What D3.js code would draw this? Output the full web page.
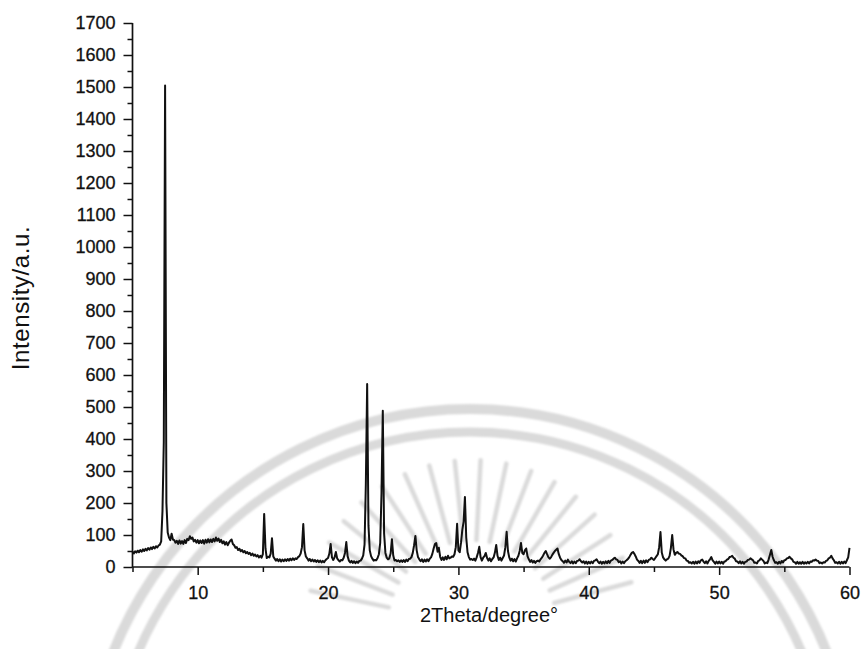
<!DOCTYPE html>
<html>
<head>
<meta charset="utf-8">
<script src="https://cdn.jsdelivr.net/npm/d3@7"></script>
<style>
  html, body { margin: 0; padding: 0; background: #fff; }
  svg { display: block; }
  text { font-family: "Liberation Sans", Arial, sans-serif; fill: #111; }
</style>
</head>
<body>
<svg id="chart" width="864" height="649"></svg>
<script>
// Powder XRD scan, 0.1° steps in 2θ; each block starts at the given angle.
const scanStep = 0.1;
const scan05 = { start: 5, values: [
  48, 42, 49, 45, 51, 46, 53, 48, 55, 50,
  57, 52, 59, 54, 61, 56, 63, 58, 65, 61,
  67, 70, 80, 175, 390, 1505, 200, 108, 92, 84,
  104, 86, 84, 76, 82, 72, 83, 73, 81, 72,
  84, 75, 88, 84, 96, 88, 92, 80, 85, 76 ] };
const scan10 = { start: 10, values: [
  84, 74, 83, 75, 84, 73, 85, 76, 87, 77,
  86, 78, 88, 80, 92, 82, 89, 78, 85, 74,
  80, 70, 78, 68, 76, 82, 86, 72, 68, 60,
  62, 53, 57, 49, 53, 46, 50, 43, 47, 41,
  44, 37, 42, 35, 39, 33, 37, 30, 35, 29,
  40, 166, 58, 28, 32, 30, 42, 90, 33, 26,
  20, 25, 18, 24, 17, 23, 18, 24, 19, 25,
  20, 26, 21, 27, 22, 27, 25, 31, 34, 42,
  62, 134, 52, 33, 27, 20, 25, 18, 23, 17,
  22, 16, 21, 15, 20, 14, 19, 15, 21, 25 ] };
const scan20 = { start: 20, values: [
  28, 42, 72, 30, 22, 30, 47, 27, 21, 17,
  22, 21, 29, 44, 78, 34, 20, 14, 19, 13,
  18, 12, 17, 13, 19, 20, 26, 36, 70, 260,
  572, 130, 52, 34, 26, 20, 22, 21, 28, 40,
  75, 230, 488, 105, 44, 29, 24, 27, 42, 87,
  36, 20, 22, 18, 21, 16, 21, 16, 22, 16,
  23, 18, 25, 26, 31, 44, 68, 97, 52, 31,
  24, 18, 24, 16, 23, 17, 24, 18, 26, 30,
  41, 58, 72, 75, 48, 60, 32, 22, 30, 22,
  32, 24, 35, 27, 29, 33, 32, 40, 62, 135 ] };
const scan30 = { start: 30, values: [
  52, 46, 76, 116, 142, 219, 92, 46, 31, 23,
  25, 22, 26, 20, 30, 44, 63, 31, 20, 29,
  34, 44, 28, 20, 27, 18, 25, 30, 45, 69,
  35, 22, 29, 20, 28, 36, 62, 110, 50, 30,
  20, 26, 18, 25, 17, 27, 35, 50, 75, 44,
  40, 52, 58, 34, 24, 16, 22, 14, 19, 13,
  18, 20, 17, 24, 29, 36, 44, 50, 40, 31,
  26, 30, 38, 44, 50, 54, 58, 40, 29, 22,
  18, 13, 20, 14, 23, 16, 12, 18, 11, 17,
  12, 19, 20, 24, 18, 14, 18, 11, 17, 10 ] };
const scan40 = { start: 40, values: [
  16, 11, 17, 12, 19, 21, 24, 17, 12, 17,
  10, 16, 11, 18, 12, 19, 13, 20, 22, 26,
  29, 24, 22, 15, 18, 11, 17, 12, 18, 21,
  25, 30, 38, 44, 47, 41, 33, 23, 19, 13,
  19, 12, 20, 13, 21, 15, 22, 24, 29, 25,
  22, 28, 34, 40, 62, 109, 45, 30, 24, 20,
  24, 26, 35, 60, 100, 55, 38, 44, 47, 42,
  41, 36, 34, 28, 27, 20, 19, 13, 15, 11,
  16, 10, 17, 11, 18, 13, 21, 23, 17, 12,
  18, 11, 19, 24, 31, 21, 16, 10, 17, 11 ] };
const scan50 = { start: 50, values: [
  17, 11, 16, 10, 17, 18, 23, 25, 31, 32,
  35, 29, 26, 18, 17, 12, 18, 11, 16, 10,
  16, 17, 22, 23, 27, 24, 21, 13, 14, 11,
  19, 21, 27, 23, 19, 11, 14, 12, 24, 38,
  53, 32, 21, 13, 15, 10, 16, 11, 19, 14,
  21, 22, 27, 28, 32, 27, 24, 16, 15, 10,
  16, 10, 15, 10, 16, 10, 15, 11, 16, 11,
  17, 16, 21, 20, 23, 20, 19, 12, 14, 11,
  15, 14, 19, 21, 27, 29, 35, 27, 21, 13,
  15, 11, 16, 10, 16, 11, 17, 12, 21, 30, 60 ] };

const scanBlocks = [scan05, scan10, scan20, scan30, scan40, scan50];

const xTicks = [10, 20, 30, 40, 50, 60];
const xMinorTicks = [5, 15, 25, 35, 45, 55];
const yTicks = d3.range(0, 1701, 100);
const yMinorTicks = d3.range(50, 1700, 100);
const xTitle = "2Theta/degree°";
const yTitle = "Intensity/a.u.";

const points = scanBlocks.flatMap(b =>
  b.values.map((v, i) => ({ angle: +(b.start + i * scanStep).toFixed(2), intensity: v })));

const svg = d3.select("#chart");
const x = d3.scaleLinear().domain([5, 60]).range([132.5, 849.5]);
const y = d3.scaleLinear().domain([0, 1700]).range([567, 23]);

svg.append("defs").append("filter").attr("id", "soft")
  .append("feGaussianBlur").attr("stdDeviation", 1);

// Faint university emblem printed behind the plot
const mark = svg.append("g").attr("class", "emblem")
  .attr("fill", "none").attr("stroke", "#dadada").attr("stroke-linecap", "round")
  .attr("filter", "url(#soft)");
const cx = 470, cy = 792;
const arc = d3.arc();
mark.append("path")
  .attr("transform", `translate(${cx},${cy})`)
  .attr("d", arc({ innerRadius: 383, outerRadius: 383, startAngle: -1.95, endAngle: 1.95 }))
  .attr("stroke-width", 10);
mark.append("path")
  .attr("transform", `translate(${cx},${cy})`)
  .attr("d", arc({ innerRadius: 360, outerRadius: 360, startAngle: -1.95, endAngle: 1.95 }))
  .attr("stroke-width", 9);
const fanAngles = d3.range(-78, 79, 9);
mark.selectAll("line.ray").data(fanAngles).join("line")
  .attr("class", "ray")
  .attr("x1", d => 472 + 85 * Math.sin(d * Math.PI / 180))
  .attr("y1", d => 625 - 85 * Math.cos(d * Math.PI / 180))
  .attr("x2", d => 472 + 165 * Math.sin(d * Math.PI / 180))
  .attr("y2", d => 625 - 165 * Math.cos(d * Math.PI / 180))
  .attr("stroke-width", 4.5);

// Scan trace
const line = d3.line().x(d => x(d.angle)).y(d => y(d.intensity));
svg.append("path")
  .datum(points)
  .attr("fill", "none")
  .attr("stroke", "#111")
  .attr("stroke-width", 2)
  .attr("stroke-linejoin", "round")
  .attr("d", line);

// Axes
const axisFont = 18;
const fmt = d3.format("d");
const yAxis = svg.append("g").attr("transform", `translate(${x(5)},0)`)
  .call(d3.axisLeft(y).tickValues(yTicks).tickSize(9).tickPadding(8).tickFormat(fmt));
svg.append("g").attr("transform", `translate(${x(5)},0)`)
  .call(d3.axisLeft(y).tickValues(yMinorTicks).tickSize(5).tickFormat(""))
  .call(g => g.select(".domain").remove());
const xAxis = svg.append("g").attr("transform", `translate(0,${y(0)})`)
  .call(d3.axisBottom(x).tickValues(xTicks).tickSize(8).tickPadding(11).tickFormat(fmt));
svg.append("g").attr("transform", `translate(0,${y(0)})`)
  .call(d3.axisBottom(x).tickValues(xMinorTicks).tickSize(5).tickFormat(""))
  .call(g => g.select(".domain").remove());

svg.selectAll(".domain").attr("stroke", "#111").attr("stroke-width", 1.7);
svg.selectAll(".tick line").attr("stroke", "#111").attr("stroke-width", 1.5);
svg.selectAll(".tick text").attr("font-size", axisFont)
  .attr("font-family", "Liberation Sans, Arial, sans-serif").attr("fill", "#111")
  .attr("stroke", "#111").attr("stroke-width", 0.3);
xAxis.select(".domain").attr("d", `M${x(5)},0H${x(60)}`);
yAxis.select(".domain").attr("d", `M0,${y(0)}V${y(1700)}`);

svg.append("text")
  .attr("x", x(32.5) - 2).attr("y", 622)
  .attr("text-anchor", "middle").attr("font-size", 20)
  .text(xTitle);
svg.append("text")
  .attr("transform", `translate(29,298) rotate(-90)`)
  .attr("text-anchor", "middle").attr("font-size", 24).attr("letter-spacing", 0.6)
  .text(yTitle);
</script>
</body>
</html>
